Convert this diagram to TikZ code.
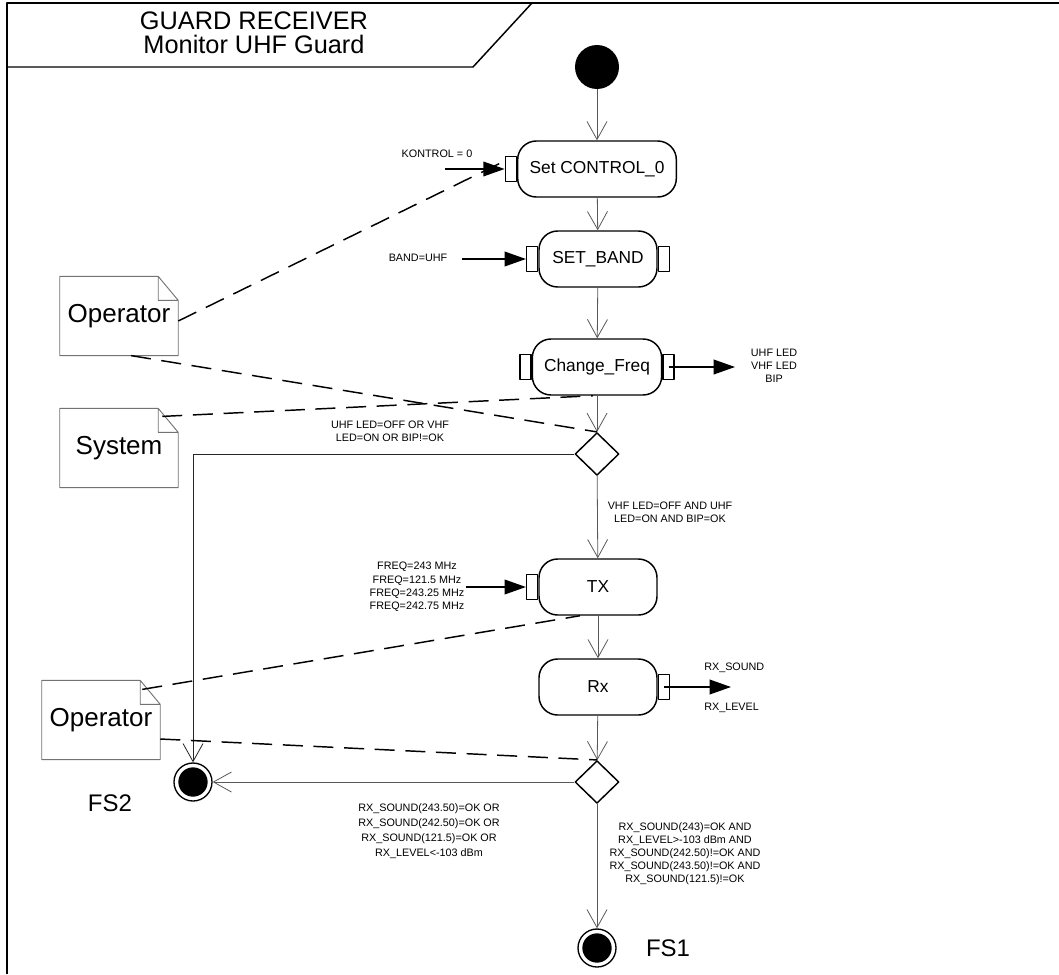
\documentclass[tikz,border=0pt]{standalone}
\usepackage{fontspec}
\setmainfont{Liberation Sans}
\usetikzlibrary{arrows.meta,shapes.geometric,calc}

\begin{document}
\begin{tikzpicture}[x=0.75pt, y=-0.75pt, line join=round,
		font=\fontsize{13}{15}\selectfont,
		action/.style={draw, line width=1.1pt, rounded corners=14pt, minimum height=42pt, minimum width=88.5pt, inner sep=0pt},
		pinbox/.style={draw, line width=1pt, fill=white, minimum width=8.25pt, minimum height=18.75pt, inner sep=0pt},
		decision/.style={diamond, draw, line width=1.1pt, minimum width=33pt, minimum height=32pt, inner sep=0pt},
		note/.style={minimum width=88.5pt, minimum height=59pt, inner sep=0pt, font=\fontsize{19.5}{22}\selectfont},
		small/.style={inner sep=0pt, align=center, font=\fontsize{8.1}{9.75}\selectfont},
		flow/.style={draw=black!65, line width=0.6pt, -{Straight Barb[length=13.5pt, width=15pt, line width=0.6pt]}},
		data/.style={line width=1.2pt, -{Triangle[length=16pt, width=11pt]}},
		trace/.style={line width=1.1pt, dash pattern=on 15pt off 8pt},
		final/.style={circle, draw, line width=1pt, minimum size=28.5pt, inner sep=0pt,
			path picture={\fill (path picture bounding box.center) circle (11pt);}}]
	\useasboundingbox (0,0) rectangle (1059,974);
	% frame and header
	\draw[line width=1.5pt] (1059,3) -- (7,3) -- (7,974);
	\draw[line width=1.1pt] (7,67) -- (473,67) -- (532,3);
	\node[align=center, font=\fontsize{19}{18}\selectfont] (title) at (254,33) {GUARD RECEIVER\\Monitor UHF Guard};

	% activity nodes
	\node[circle, fill, minimum size=33pt, inner sep=0pt] (start) at (597,67) {};
	\node[action, minimum width=119pt] (ctl) at (597,169) {Set CONTROL\_0};
	\node[action] (band) at (598,259) {SET\_BAND};
	\node[action, minimum width=97pt] (freq) at (597,367) {Change\_Freq};
	\node[decision] (dec1) at (597,454) {};
	\node[action] (tx) at (598,587) {TX};
	\node[action] (rx) at (598,687) {Rx};
	\node[decision] (dec2) at (597,782) {};
	\node[final] (fs1) at (597,948) {};
	\node[final] (fs2) at (193,782) {};
	\node[font=\fontsize{18}{20}\selectfont] (fs1-lbl) at (668,948) {FS1};
	\node[font=\fontsize{18}{20}\selectfont] (fs2-lbl) at (110,803) {FS2};

	% pins
	\node[pinbox, anchor=east] (ctl-in) at (ctl.west) {};
	\node[pinbox, anchor=east] (band-in) at (band.west) {};
	\node[pinbox, anchor=west] (band-out) at (band.east) {};
	\node[pinbox, anchor=east] (freq-in) at (freq.west) {};
	\node[pinbox, anchor=west] (freq-out) at (freq.east) {};
	\node[pinbox, anchor=east] (tx-in) at (tx.west) {};
	\node[pinbox, anchor=west] (rx-out) at (rx.east) {};

	% notes
	\node[note] (op1) at (119,316) {Operator};
	\node[note] (sys) at (119,448) {System};
	\node[note] (op2) at (101,720) {Operator};
	\foreach \n in {op1,sys,op2}
		\draw[draw=black!55, line width=0.7pt] (\n.south west) |- ($(\n.north east)+(-20,0)$) -- ($(\n.north east)+(0,24)$) |- cycle
			($(\n.north east)+(-20,0)$) |- ($(\n.north east)+(0,24)$);

	% control flow
	\draw[flow] (start) -- (ctl);
	\draw[flow] (ctl) -- (band);
	\draw[flow] (band) -- (freq);
	\draw[flow] (freq) -- (dec1);
	\draw[flow] (dec1) -- (tx);
	\draw[flow] (tx) -- (rx);
	\draw[flow] (rx) -- (dec2);
	\draw[flow] (dec2) -- (fs1);
	\draw[flow, draw=black!85] (dec1.west) -| (fs2);
	\draw[flow] (dec2.west) -- (fs2);

	% guards
	\node[small] (g1) at (390,431) {UHF LED=OFF OR VHF\\LED=ON OR BIP!=OK};
	\node[small] (g2) at (670,512) {VHF LED=OFF AND UHF\\LED=ON AND BIP=OK};
	\node[small, font=\fontsize{8.1}{11.4}\selectfont] (g3) at (429,831) {RX\_SOUND(243.50)=OK OR\\RX\_SOUND(242.50)=OK OR\\RX\_SOUND(121.5)=OK OR\\RX\_LEVEL<-103 dBm};
	\node[small] (g4) at (685,854) {RX\_SOUND(243)=OK AND\\RX\_LEVEL>-103 dBm AND\\RX\_SOUND(242.50)!=OK AND\\RX\_SOUND(243.50)!=OK AND\\RX\_SOUND(121.5)!=OK};

	% object flows
	\node[small] (kontrol) at (437,154) {KONTROL = 0};
	\coordinate (kontrol-src) at (445,169);
	\draw[data] (kontrol-src) -- (ctl-in.west);
	\node[small] (bandval) at (418,258) {BAND=UHF};
	\coordinate (bandval-src) at (462,259);
	\draw[data] (bandval-src) -- (band-in.west);
	\node[small] (leds) at (774,366) {UHF LED\\VHF LED\\BIP};
	\coordinate (leds-end) at (735,367);
	\draw[data] (freq-out.center) -- (leds-end);
	\node[small, font=\fontsize{8.1}{10}\selectfont] (freqs) at (417,587) {FREQ=243 MHz\\FREQ=121.5 MHz\\FREQ=243.25 MHz\\FREQ=242.75 MHz};
	\coordinate (freqs-src) at (466,587);
	\draw[data] (freqs-src) -- (tx-in.west);
	\node[small, anchor=west] (rxsound) at (704,668) {RX\_SOUND};
	\node[small, anchor=west] (rxlevel) at (704,708) {RX\_LEVEL};
	\coordinate (rx-end) at (731,687);
	\draw[data] (rx-out.center) -- (rx-end);

	% traces to notes
	\draw[trace] ($(op1.east)+(0,5)$) -- ($(ctl-in.west)+(0,-8)$);
	\draw[trace] ($(op1.south)+(12,0)$) -- (dec1.north);
	\draw[trace] ($(sys.north east)+(-16,8)$) -- ($(freq.south)+(-4,0)$);
	\draw[trace] ($(op2.north east)+(-18,9)$) -- ($(tx.south)+(-18,0)$);
	\draw[trace] ($(op2.east)+(0,19)$) -- (dec2.north);
\end{tikzpicture}
\end{document}
